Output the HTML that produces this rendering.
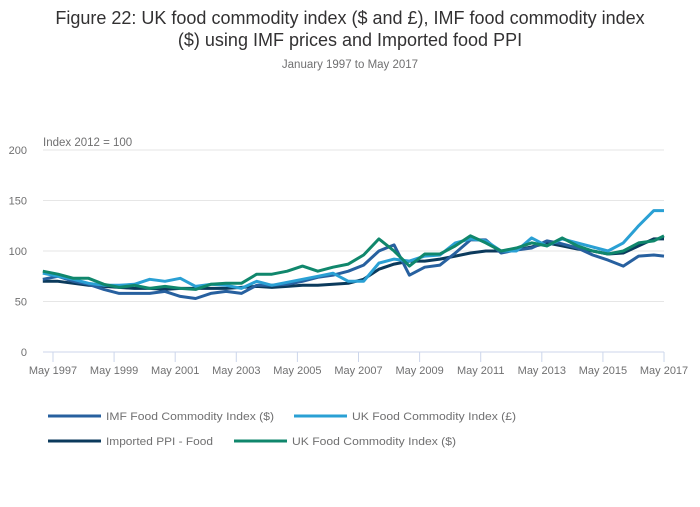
<!DOCTYPE html>
<html><head><meta charset="utf-8"><style>
body{margin:0;background:#fff;font-family:"Liberation Sans",sans-serif;}
</style></head><body>
<svg width="700" height="502" id="c" font-family="Liberation Sans, sans-serif">
<text x="350" y="24" text-anchor="middle" font-size="18" fill="#323132">Figure 22: UK food commodity index ($ and £), IMF food commodity index</text>
<text x="350" y="46" text-anchor="middle" font-size="18" fill="#323132">($) using IMF prices and Imported food PPI</text>
<text x="350" y="68" text-anchor="middle" font-size="11.5" fill="#707071">January 1997 to May 2017</text>
<text x="43" y="146" font-size="11.5" fill="#707071">Index 2012 = 100</text>
<g id="grid"></g><g id="series"></g><g id="legend"></g>
</svg>
<script>
const yTicks=[0,50,100,150,200];
const xTickLabels=["May 1997","May 1999","May 2001","May 2003","May 2005","May 2007","May 2009","May 2011","May 2013","May 2015","May 2017"];
const xTickMonths=[4,28,52,76,100,124,148,172,196,220,244];
// months since Jan 1997: Jan/Jul each year, then May 2017
const months=[];for(let i=0;i<41;i++)months.push(i*6);months.push(244);
const imf=[72,75,70,67,62,58,58,58,60,55,53,58,60,58,66,66,67,70,74,76,80,86,100,106,76,84,86,98,111,111,98,101,103,110,107,103,96,91,85,95,96,95];
const ukGbp=[78,75,72,68,66,66,67,72,70,73,65,67,66,63,70,66,69,72,75,78,70,70,88,92,90,95,96,108,112,110,100,100,113,105,112,108,104,100,108,125,140,140];
const ppi=[70,70,68,66,65,64,63,63,62,63,63,63,63,64,65,64,65,66,66,67,68,72,82,87,90,90,92,95,98,100,100,101,104,108,105,102,100,97,98,105,112,112];
const ukUsd=[80,77,73,73,67,64,66,63,65,63,62,67,68,68,77,77,80,85,80,84,87,96,112,100,85,97,97,105,115,108,100,103,108,105,113,105,100,97,100,108,110,115];
const seriesNames=["IMF Food Commodity Index ($)","UK Food Commodity Index (£)","Imported PPI - Food","UK Food Commodity Index ($)"];
const legendTextLen=[168,164,107,164];
const NS="http://www.w3.org/2000/svg";
const x=m=>42.8+m*2.546;
const y=v=>352-v*1.01;
const grid=document.getElementById('grid');
function mk(t,a,p){const e=document.createElementNS(NS,t);for(const k in a)e.setAttribute(k,a[k]);p.appendChild(e);return e;}
yTicks.forEach(v=>{
 const l=mk('line',{x1:43,x2:664,y1:y(v),y2:y(v),stroke:v===0?'#ccd6eb':'#e6e6e6','stroke-width':1},grid);
 
 
 const t=mk('text',{x:27,y:y(v)+4,'text-anchor':'end','font-size':11,fill:'#707071'},grid);t.textContent=v;
 
 
});
xTickMonths.forEach((m,i)=>{
 const l=mk('line',{x1:x(m),x2:x(m),y1:352,y2:362,stroke:'#ccd6eb'},grid);
 
 
 const t=mk('text',{x:x(m),y:374,'text-anchor':'middle','font-size':11,fill:'#707071'},grid);t.textContent=xTickLabels[i];
 
 
});
const sg=document.getElementById('series');
const data=[imf,ukGbp,ppi,ukUsd];const cols=['#27609f','#2aa0d4','#0b3a5c','#10876c'];
const order=[2,0,1,3];
order.forEach(s=>{
 const d=data[s].map((v,i)=>(i?'L':'M')+x(months[i]).toFixed(1)+','+y(v).toFixed(1)).join('');
 const p=mk('path',{d:d,fill:'none',stroke:cols[s],'stroke-width':3,'stroke-linejoin':'round'},sg);
 
 
});
const lg=document.getElementById('legend');
const pos=[[48,416],[294,416],[48,441],[234,441]];
seriesNames.forEach((n,i)=>{
 const [lx,ly]=pos[i];
 const l=mk('line',{x1:lx,x2:lx+53,y1:ly,y2:ly,stroke:cols[i],'stroke-width':3},lg);
 
 
 const t=mk('text',{x:lx+58,y:ly+4,'font-size':11,fill:'#707071',textLength:legendTextLen[i],lengthAdjust:'spacingAndGlyphs'},lg);t.textContent=n;
 
 
});
</script>
</body></html>
